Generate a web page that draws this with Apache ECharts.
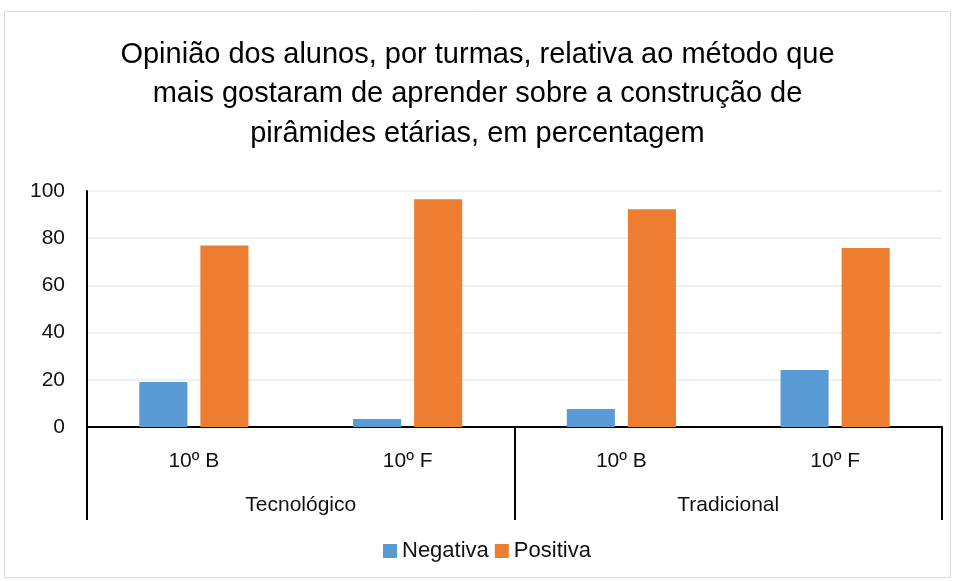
<!DOCTYPE html>
<html>
<head>
<meta charset="utf-8">
<script src="https://cdn.jsdelivr.net/npm/echarts@6/dist/echarts.min.js"></script>
<style>
  html, body { margin: 0; padding: 0; background: #fff; }
  #chart { width: 955px; height: 581px; }
</style>
</head>
<body>
<div id="chart"></div>
<script>
// Two-level category axis: classes (inner) grouped by teaching method (outer)
const classes = ['10º B', '10º F', '10º B', '10º F'];
const methods = ['Tecnológico', 'Tradicional'];
const seriesNames = ['Negativa', 'Positiva'];
const negativa = [19.1, 3.4, 7.6, 24.1];
const positiva = [76.9, 96.5, 92.3, 75.8];
const yTicks = { min: 0, max: 100, interval: 20 };

const FONT = '"Liberation Sans", Arial, sans-serif';
const TEXT = '#111111';

const chart = echarts.init(document.getElementById('chart'), null, { renderer: 'canvas' });

chart.setOption({
  backgroundColor: '#ffffff',
  animation: false,
  title: {
    text: 'Opinião dos alunos, por turmas, relativa ao método que\nmais gostaram de aprender sobre a construção de\npirâmides etárias, em percentagem',
    left: 'center',
    top: 30,
    textStyle: { fontFamily: FONT, fontSize: 29, fontWeight: 'normal', color: '#000', lineHeight: 39.5 }
  },
  graphic: [{
    type: 'rect',
    shape: { x: 4.5, y: 11.5, width: 946, height: 566 },
    style: { fill: 'none', stroke: '#d9d9d9', lineWidth: 1 },
    silent: true,
    z: -1
  }],
  legend: {
    data: seriesNames,
    left: 383,
    top: 540,
    padding: 0,
    itemWidth: 14,
    itemHeight: 14,
    itemGap: 6,
    icon: 'rect',
    textStyle: { fontFamily: FONT, fontSize: 22, color: TEXT }
  },
  grid: { left: 87, right: 13, top: 191, bottom: 154 },
  xAxis: [
    {
      type: 'category',
      data: classes,
      position: 'bottom',
      axisLine: { show: true, lineStyle: { color: '#000', width: 2 } },
      axisTick: { show: false },
      axisLabel: { margin: 24, fontFamily: FONT, fontSize: 21, color: TEXT }
    },
    {
      type: 'category',
      data: methods,
      position: 'bottom',
      axisLine: { show: false },
      axisTick: { show: true, length: 93, lineStyle: { color: '#000', width: 2 } },
      axisLabel: { margin: 68, fontFamily: FONT, fontSize: 21, color: TEXT }
    }
  ],
  yAxis: {
    type: 'value',
    min: yTicks.min,
    max: yTicks.max,
    interval: yTicks.interval,
    axisLine: { show: true, lineStyle: { color: '#000', width: 2 } },
    axisTick: { show: false },
    axisLabel: { margin: 22, fontFamily: FONT, fontSize: 21, color: TEXT },
    splitLine: { show: true, lineStyle: { color: '#ebebeb', width: 1.5 } }
  },
  series: [
    {
      name: seriesNames[0],
      type: 'bar',
      xAxisIndex: 0,
      data: negativa,
      barWidth: '22.5%',
      barGap: '27%',
      itemStyle: { color: '#5B9BD5' }
    },
    {
      name: seriesNames[1],
      type: 'bar',
      xAxisIndex: 0,
      data: positiva,
      barWidth: '22.5%',
      barGap: '27%',
      itemStyle: { color: '#ED7D31' }
    }
  ]
});
</script>
</body>
</html>
